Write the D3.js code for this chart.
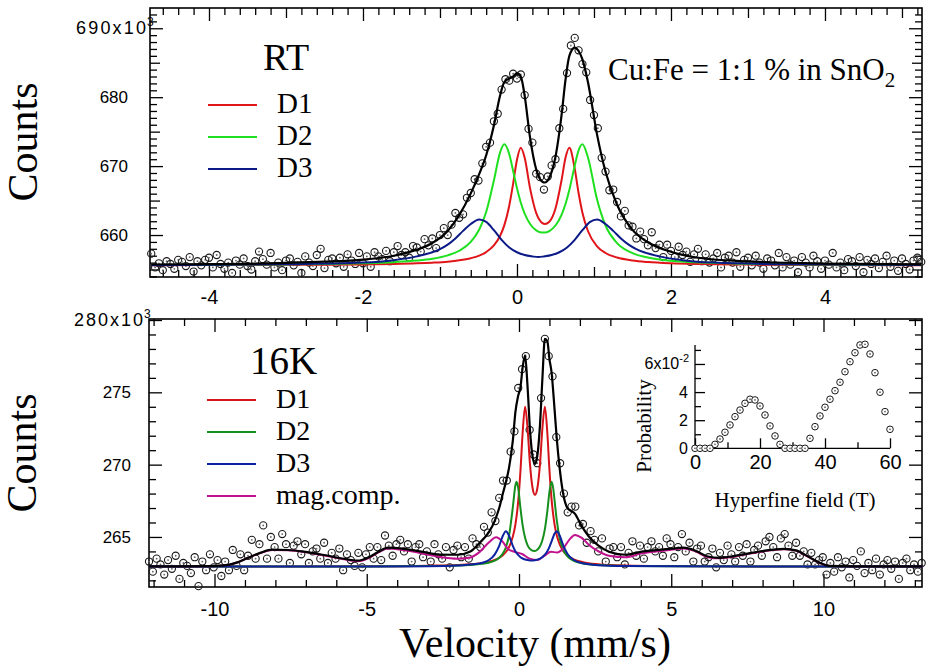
<!DOCTYPE html>
<html>
<head>
<meta charset="utf-8">
<script src="https://cdn.jsdelivr.net/npm/d3@7"></script>
<style>
body { margin: 0; background: #fff; }
</style>
</head>
<body>
<script>
var width = 929,
    height = 671;

var serif = "'Liberation Serif', 'Times New Roman', serif",
    sans = "'Liberation Sans', Arial, sans-serif";

// ---------- RT spectrum (counts in 10^3) ----------
// channel velocity calibration: first channel and step, mm/s
var rtVelStart = -4.75,
    rtVelStep = 0.05;

var rtCounts = [
    657.3,655.3,655.9,654.9,656.2,655.8,655.1,656.4,656.1,655.5,
    656.8,654.7,656.2,655.6,656.4,656.7,655.3,657.1,655.8,655.1,
    656.0,654.5,656.3,655.7,656.6,655.5,655.0,656.2,657.6,656.5,
    655.7,657.4,655.3,656.0,654.9,656.3,656.6,655.6,656.1,654.5,
    656.9,656.0,655.5,657.1,658.0,655.2,656.4,656.6,655.9,656.7,
    655.4,657.2,656.3,655.8,657.4,655.9,656.9,655.4,657.5,656.9,
    656.5,657.7,656.2,657.5,658.4,657.1,657.5,656.7,658.4,658.2,
    657.6,659.4,658.5,659.5,658.1,660.0,661.0,660.0,661.5,663.2,
    662.5,663.0,665.4,666.1,668.1,667.9,670.4,672.8,673.4,676.5,
    677.6,681.1,682.6,682.4,683.4,682.7,683.3,680.3,675.4,673.4,
    668.9,668.4,666.6,668.5,670.1,671.0,675.5,678.3,683.5,687.5,
    688.6,686.8,684.8,683.6,679.6,677.4,675.5,671.2,669.2,666.5,
    666.6,664.8,662.7,663.5,661.4,661.2,659.5,660.5,659.4,658.5,
    660.4,658.1,658.6,656.8,658.6,657.7,656.8,658.3,657.1,657.6,
    656.1,657.2,658.0,656.2,657.2,656.0,656.6,657.4,655.3,656.7,
    657.0,656.0,657.5,655.4,656.4,656.7,655.6,657.0,656.0,655.1,
    656.6,656.3,655.6,657.4,655.3,656.8,655.7,656.3,654.6,656.8,
    656.0,655.3,657.0,656.2,655.1,656.3,655.7,657.4,655.3,656.0,
    654.9,656.5,656.2,655.5,656.8,654.6,656.4,655.8,656.6,655.2,
    656.1,657.0,655.4,656.3,654.8,656.6,655.8,655.0,656.3,656.7,
    656.1
];

var rtVel = [-4.75,-4,-3,-2.5,-2,-1.6,-1.3,-1.1,-0.9,-0.75,-0.6,-0.49,-0.4,-0.3,-0.22,-0.165,
    -0.1,-0.05,0,0.05,0.1,0.17,0.25,0.3,0.36,0.42,0.5,0.58,0.63,0.68,0.75,0.8,0.85,0.92,
    1.04,1.15,1.3,1.5,1.7,2.0,2.4,3,4,5.25];
var rtFit = [655.72,655.77,655.95,656.13,656.44,657.0,657.88,658.84,660.59,662.89,666.04,668.87,
    671.58,675.9,680.22,682.2,682.7,683.0,683.5,683.0,680.2,674.13,669.51,668.12,667.62,668.32,
    671.35,677.49,682.5,686.0,687.2,686.7,685.5,682.28,674.57,669.17,664.4,660.75,658.95,
    657.57,656.63,656.18,655.86,655.73];
var rtD1 = [655.63,655.64,655.67,655.69,655.74,655.80,655.89,655.99,656.14,656.33,656.64,657.02,
    657.53,658.49,659.86,661.40,664.28,667.47,670.93,672.67,671.20,666.77,663.19,662.07,661.59,
    661.93,663.86,668.02,671.20,672.67,669.61,666.10,663.24,660.62,658.36,657.39,656.73,656.30,
    656.08,655.90,655.79,655.71,655.66,655.63];
var rtD2 = [655.66,655.68,655.74,655.79,655.90,656.06,656.29,656.56,657.05,657.72,659.00,660.80,
    663.35,667.91,671.96,673.16,671.71,669.29,666.79,664.69,663.10,661.61,660.68,660.41,660.35,
    660.58,661.38,662.97,664.51,666.55,670.06,672.28,673.16,671.32,665.17,661.38,658.83,657.38,
    656.73,656.27,656.00,655.82,655.71,655.66];
var rtD3Vel = [-4.75,-3,-2,-1.6,-1.3,-1.1,-1.0,-0.9,-0.8,-0.7,-0.6,-0.49,-0.4,-0.3,-0.2,-0.1,0,
    0.1,0.2,0.275,0.35,0.45,0.55,0.65,0.75,0.85,0.95,1.04,1.15,1.25,1.35,1.45,1.55,1.65,1.85,
    2.15,2.55,3.55,5.25];
var rtD3 = [655.62,655.75,656.0,656.35,656.9,657.5,657.95,658.6,659.5,660.6,661.6,662.25,661.9,
    660.7,659.3,658.2,657.5,657.1,656.9,656.8,656.9,657.1,657.5,658.2,659.3,660.7,661.9,662.25,
    661.6,660.6,659.5,658.6,657.95,657.5,656.9,656.35,656.0,655.75,655.65];

// ---------- 16K spectrum (counts in 10^3) ----------
var lowVelStart = -12.15,
    lowVelStep = 0.125;

var lowCounts = [
    263.3,262.6,263.5,263.1,262.4,263.4,262.8,263.7,262.1,263.2,
    263.0,262.5,263.6,261.6,263.3,262.7,263.8,262.9,263.4,262.3,
    263.3,262.7,264.1,263.0,263.8,262.7,263.7,264.8,263.5,264.5,
    265.8,263.5,265.0,264.3,263.5,265.2,264.5,263.2,264.4,264.7,
    263.8,264.5,263.2,264.0,264.2,263.5,264.6,263.2,263.9,263.5,
    264.2,262.7,263.8,263.4,263.0,263.9,262.9,263.8,264.3,263.5,
    264.3,263.4,265.1,264.4,263.7,264.5,264.8,264.0,264.5,263.3,
    264.3,264.5,263.6,264.0,263.3,264.5,263.8,263.5,264.3,262.9,
    264.1,264.4,263.6,264.3,263.5,264.9,264.5,264.3,265.7,265.3,
    266.7,266.1,267.7,268.9,268.9,270.9,272.3,275.3,276.6,277.5,
    272.4,270.7,270.1,274.6,278.7,277.5,276.1,271.9,270.1,268.0,
    266.7,267.1,267.1,265.8,265.9,264.6,265.4,264.8,264.0,264.9,
    263.3,264.2,264.3,263.6,264.3,263.1,263.9,264.7,263.7,264.4,
    263.5,264.3,264.7,264.0,264.3,263.7,264.9,264.5,263.6,264.3,
    265.2,264.0,264.6,263.3,264.2,264.4,263.3,263.6,264.2,262.9,
    263.9,263.4,264.4,263.8,263.3,264.3,263.7,264.5,263.3,264.1,
    264.4,263.7,264.7,265.0,264.3,263.6,264.9,265.2,264.4,263.7,
    264.6,263.7,264.0,263.1,263.9,263.1,263.4,263.6,262.4,263.2,
    262.6,263.6,262.9,263.3,262.2,263.4,263.0,264.0,262.5,263.2,
    262.7,263.5,262.4,263.1,263.4,262.8,263.3,262.1,263.2,263.5,
    262.7,263.1,262.6,263.2
];

var lowVel = [-12.15,-8,-5,-3,-2,-1.5,-1.2,-1.0,-0.8,-0.65,-0.53,-0.43,-0.33,-0.2,-0.12,-0.08,
    -0.03,0.05,0.12,0.2,0.28,0.36,0.45,0.525,0.6,0.69,0.77,0.85,0.93,1.0,1.07,1.12,1.17,1.24,
    1.34,1.45,1.6,1.8,2.1,2.6,3.5,5,8,13.25];
var lowD1 = [262.95,262.96,262.97,263.01,263.06,263.13,263.20,263.28,263.41,263.56,263.74,263.96,
    264.29,265.04,265.84,266.42,267.37,269.63,272.21,274.01,272.56,270.05,268.33,267.91,268.33,
    270.05,272.56,274.01,272.21,269.63,267.60,266.59,265.84,265.12,264.47,264.04,263.70,263.45,
    263.26,263.12,263.03,262.99,262.96,262.95];
var lowD2 = [262.95,262.96,262.96,262.99,263.02,263.08,263.14,263.22,263.36,263.56,263.85,264.29,
    265.07,267.10,268.55,268.81,268.44,266.96,265.80,264.94,264.44,264.17,264.04,264.03,264.11,
    264.36,264.79,265.54,266.77,268.12,268.81,268.41,267.50,266.16,264.87,264.13,263.64,263.35,
    263.17,263.06,263.00,262.97,262.96,262.95];
var lowD3 = [262.95,262.95,262.96,262.98,263.03,263.11,263.22,263.39,263.78,264.39,265.08,265.40,
    265.10,264.37,264.02,263.89,263.76,263.60,263.51,263.44,263.40,263.38,263.38,263.39,263.43,
    263.51,263.62,263.78,264.02,264.32,264.69,264.99,265.24,265.40,265.08,264.44,263.81,263.41,
    263.18,263.05,262.99,262.97,262.96,262.95];

var lowMagVel = [-12.15,-10.2,-9.7,-9.3,-8.9,-8.5,-8.1,-7.6,-7.0,-6.4,-5.8,-5.3,-4.9,-4.6,-4.3,
    -3.8,-3.2,-2.6,-2.0,-1.6,-1.3,-1.0,-0.75,-0.55,-0.35,-0.15,0.1,0.35,0.6,0.85,1.05,1.25,1.45,
    1.65,1.84,2.05,2.3,2.6,3.0,3.5,4.0,4.5,5.0,5.4,5.8,6.2,6.6,7.0,7.5,8.0,8.7,9.1,9.5,9.9,10.2,
    11,13.25];
var lowMag = [262.96,262.97,263.02,263.2,263.55,263.88,264.1,264.08,263.95,263.72,263.48,263.32,
    263.58,263.95,264.2,264.1,263.88,263.62,263.5,263.58,263.95,264.6,264.98,264.7,264.15,263.98,
    263.82,263.5,263.4,263.72,263.98,263.92,264.2,264.8,265.14,264.95,264.45,264.02,263.68,263.6,
    263.85,264.0,264.12,264.2,264.0,263.6,263.52,263.62,263.82,264.0,264.15,264.05,263.62,263.18,
    262.99,262.96,262.95];

var lowFitVel = [-12.15,-10.2,-9.7,-9.3,-8.9,-8.5,-8.1,-7.6,-7.0,-6.4,-5.8,-5.3,-4.9,-4.6,-4.3,
    -3.8,-3.2,-2.6,-2.0,-1.6,-1.3,-1.0,-0.8,-0.65,-0.53,-0.43,-0.33,-0.2,-0.12,-0.03,0.05,0.12,
    0.2,0.28,0.36,0.45,0.525,0.6,0.69,0.77,0.85,0.93,1.0,1.07,1.17,1.24,1.34,1.45,1.6,1.84,2.05,
    2.3,2.6,3.0,3.5,4.0,4.5,5.0,5.4,5.8,6.2,6.6,7.0,7.5,8.0,8.7,9.1,9.5,9.9,10.2,11,13.25];
var lowFit = [262.97,262.98,263.03,263.21,263.56,263.9,264.12,264.1,263.97,263.75,263.51,263.36,
    263.63,264.0,264.26,264.18,263.99,263.78,263.77,263.99,264.58,265.3,266.1,267.0,268.0,268.8,
    269.75,271.71,273.6,274.74,275.38,276.73,277.55,275.43,272.44,270.5,270.05,270.58,272.77,
    276.01,278.7,278.55,277.3,276.37,273.77,271.82,269.67,267.99,266.97,266.6,265.78,265.01,
    264.41,263.94,263.77,263.97,264.09,264.19,264.26,264.05,263.65,263.56,263.66,263.85,264.03,
    264.18,264.07,263.64,263.2,263.0,262.97,262.96];

// ---------- hyperfine field distribution (inset) ----------
var fieldT = [0,1.54,3.08,4.62,6.15,7.69,9.23,10.77,12.31,13.85,15.38,16.92,18.46,20,21.54,
    23.08,24.62,26.15,27.69,29.23,30.77,32.31,33.85,35.38,36.92,38.46,40,41.54,43.08,44.62,
    46.15,47.69,49.23,50.77,52.31,53.85,55.38,56.92,58.46,60];
var probability = [0,0,0,0,0.28,0.66,1.14,1.66,2.25,2.72,3.2,3.49,3.44,3.01,2.37,1.59,0.88,0.28,
    0,0,0,0,0,0.71,1.54,2.3,2.92,3.49,4.1,4.7,5.45,6.16,6.8,7.35,7.4,6.71,5.38,3.99,2.61,1.35];

var rtLegend = ["D1", "D2", "D3"],
    rtColors = ["#e0151a", "#1fe01f", "#0b1a86"];
var lowLegend = ["D1", "D2", "D3", "mag.comp."],
    lowColors = ["#d4141a", "#158f1d", "#0d22a0", "#c0128e"];

var svg = d3.select("body").append("svg")
    .attr("width", width)
    .attr("height", height);

var rt = {
    left: 150, right: 922, top: 8, bottom: 277,
    x: d3.scaleLinear().domain([-4.766, 5.26]).range([150, 922]),
    y: d3.scaleLinear().domain([653.91, 692.94]).range([277, 8])
};

var low = {
    left: 149, right: 922, top: 319, bottom: 587,
    x: d3.scaleLinear().domain([-12.151, 13.235]).range([149, 922]),
    y: d3.scaleLinear().domain([261.54, 280.07]).range([587, 319])
};

function noLabel() { return ""; }

function axisGroup(axis, transform) {
    var g = svg.append("g")
        .attr("transform", transform)
        .call(axis);
    g.select(".domain").remove();
    g.selectAll("line").attr("stroke", "#000").attr("stroke-width", 1.3);
    return g;
}

function notEvery(vals, n) {
    return vals.filter(function(v) { return Math.abs(Math.round(v / n) * n - v) > 1e-6; });
}

// ticks on all four sides, pointing inward
function frame(p, xt, yt, o) {
    [["major", 13], ["mid", 10], ["minor", 7]].forEach(function(s) {
        var xv = xt[s[0]] || [],
            yv = yt[s[0]] || [],
            len = s[1],
            lab = s[0] === "major";

        var xb = axisGroup(d3.axisBottom(p.x).tickValues(xv).tickSize(-len)
                .tickPadding(o.xPad).tickFormat(lab ? function(d) { return d; } : noLabel),
            "translate(0," + p.bottom + ")");
        axisGroup(d3.axisTop(p.x).tickValues(xv).tickSize(-len).tickFormat(noLabel),
            "translate(0," + p.top + ")");
        var yl = axisGroup(d3.axisLeft(p.y).tickValues(yv).tickSize(-len)
                .tickPadding(o.yPad).tickFormat(lab ? o.yFmt : noLabel),
            "translate(" + p.left + ",0)");
        axisGroup(d3.axisRight(p.y).tickValues(yv).tickSize(-len).tickFormat(noLabel),
            "translate(" + p.right + ",0)");

        xb.attr("font-family", sans).attr("font-size", o.xFont);
        yl.attr("font-family", sans).attr("font-size", o.yFont);
    });

    svg.append("rect")
        .attr("x", p.left)
        .attr("y", p.top)
        .attr("width", p.right - p.left)
        .attr("height", p.bottom - p.top)
        .attr("fill", "none")
        .attr("stroke", "#000")
        .attr("stroke-width", 1.6);
}

function dots(p, start, step, counts, r) {
    var pts = svg.append("g").selectAll("g")
        .data(counts)
      .enter().append("g")
        .attr("transform", function(d, i) {
            return "translate(" + p.x(start + i * step) + "," + p.y(d) + ")";
        });
    pts.append("circle")
        .attr("r", r)
        .attr("fill", "none")
        .attr("stroke", "#1a1a1a")
        .attr("stroke-width", 1.1);
    pts.append("circle")
        .attr("r", 0.9)
        .attr("fill", "#666");
}

function curve(p, vel, vals, color, w) {
    var line = d3.line()
        .x(function(d, i) { return p.x(vel[i]); })
        .y(function(d) { return p.y(d); })
        .curve(d3.curveMonotoneX);
    svg.append("path")
        .datum(vals)
        .attr("fill", "none")
        .attr("stroke", color)
        .attr("stroke-width", w)
        .attr("stroke-linejoin", "round")
        .attr("d", line);
}

function legend(names, colors, x0, y0, gap, size) {
    var row = svg.append("g").selectAll("g")
        .data(names)
      .enter().append("g")
        .attr("transform", function(d, i) { return "translate(" + x0 + "," + (y0 + i * gap) + ")"; });
    row.append("line")
        .attr("x1", 0).attr("x2", 49)
        .attr("y1", -8).attr("y2", -8)
        .attr("stroke", function(d, i) { return colors[i]; })
        .attr("stroke-width", 2);
    row.append("text")
        .attr("x", 69)
        .attr("font-family", serif)
        .attr("font-size", size)
        .text(function(d) { return d; });
}

// axis label carrying the exponent, e.g. 690x10^3
function expLabel(x0, x1, y, base, exp, size, expSize) {
    svg.append("text")
        .attr("x", x0)
        .attr("y", y)
        .attr("font-family", sans)
        .attr("font-size", size)
        .attr("textLength", x1 - x0)
        .attr("lengthAdjust", "spacing")
        .text(base);
    svg.append("text")
        .attr("x", x1 + 1)
        .attr("y", y - 8)
        .attr("font-family", sans)
        .attr("font-size", expSize)
        .text(exp);
}

// ---------- top panel: RT ----------
frame(rt,
    { major: [-4, -2, 0, 2, 4], mid: [-3, -1, 1, 3, 5],
      minor: notEvery(d3.range(-23, 27).map(function(k) { return k / 5; }), 1) },
    { major: [660, 670, 680, 690], mid: [655, 665, 675, 685],
      minor: notEvery(d3.range(654, 693), 5) },
    { xPad: 13, yPad: 22, xFont: 20, yFont: 17,
      yFmt: function(d) { return d === 690 ? "" : d; } });

dots(rt, rtVelStart, rtVelStep, rtCounts, 3.6);
curve(rt, rtVel, rtD1, rtColors[0], 2);
curve(rt, rtVel, rtD2, rtColors[1], 2);
curve(rt, rtD3Vel, rtD3, rtColors[2], 2);
curve(rt, rtVel, rtFit, "#000", 2.2);

expLabel(76, 146, rt.y(690) + 6, "690x10", "3", 18, 12);

svg.append("text")
    .attr("x", 263).attr("y", 70)
    .attr("font-family", serif).attr("font-size", 38)
    .text("RT");
legend(rtLegend, rtColors, 208, 113, 32, 29);

var cu = svg.append("text")
    .attr("x", 608).attr("y", 80)
    .attr("font-family", serif).attr("font-size", 31);
cu.append("tspan").text("Cu:Fe = 1:1 % in SnO");
cu.append("tspan").attr("font-size", 21).attr("dy", 7).text("2");

svg.append("text")
    .attr("transform", "translate(37,142)rotate(-90)")
    .attr("text-anchor", "middle")
    .attr("font-family", serif).attr("font-size", 42)
    .text("Counts");

// ---------- bottom panel: 16K ----------
frame(low,
    { major: [-10, -5, 0, 5, 10], minor: notEvery(d3.range(-12, 14), 5) },
    { major: [265, 270, 275, 280], minor: notEvery(d3.range(262, 281), 5) },
    { xPad: 15, yPad: 18, xFont: 20, yFont: 17,
      yFmt: function(d) { return d === 280 ? "" : d; } });

dots(low, lowVelStart, lowVelStep, lowCounts, 3.6);
curve(low, lowVel, lowD1, lowColors[0], 2);
curve(low, lowVel, lowD2, lowColors[1], 2);
curve(low, lowMagVel, lowMag, lowColors[3], 2);
curve(low, lowVel, lowD3, lowColors[2], 2);
curve(low, lowFitVel, lowFit, "#000", 2.2);

expLabel(74, 143, low.y(280) + 6, "280x10", "3", 18, 12);

svg.append("text")
    .attr("x", 250).attr("y", 374)
    .attr("font-family", serif).attr("font-size", 39)
    .text("16K");
legend(lowLegend, lowColors, 207, 408, 32, 28);

svg.append("text")
    .attr("transform", "translate(36,453)rotate(-90)")
    .attr("text-anchor", "middle")
    .attr("font-family", serif).attr("font-size", 42)
    .text("Counts");

svg.append("text")
    .attr("x", 535).attr("y", 657)
    .attr("text-anchor", "middle")
    .attr("font-family", serif).attr("font-size", 42)
    .text("Velocity (mm/s)");

// ---------- inset: hyperfine field distribution ----------
var ins = {
    x: d3.scaleLinear().domain([0, 60]).range([695, 890]),
    y: d3.scaleLinear().domain([0, 7.35]).range([448.3, 345])
};

function insetAxis(axis, transform, font) {
    var g = axisGroup(axis, transform);
    g.attr("font-family", sans).attr("font-size", font);
    return g;
}

insetAxis(d3.axisBottom(ins.x).tickValues([0, 20, 40, 60]).tickSize(-10).tickPadding(7),
    "translate(0," + ins.y(0) + ")", 20);
insetAxis(d3.axisBottom(ins.x).tickValues([10, 30, 50]).tickSize(-6).tickFormat(noLabel),
    "translate(0," + ins.y(0) + ")", 20);
insetAxis(d3.axisLeft(ins.y).tickValues([0, 2, 4, 6]).tickSize(-10).tickPadding(7)
    .tickFormat(function(d) { return d === 6 ? "" : d; }),
    "translate(" + ins.x(0) + ",0)", 16);
insetAxis(d3.axisLeft(ins.y).tickValues([1, 3, 5, 7]).tickSize(-6).tickFormat(noLabel),
    "translate(" + ins.x(0) + ",0)", 16);

svg.append("line")
    .attr("x1", ins.x(0)).attr("x2", ins.x(60))
    .attr("y1", ins.y(0)).attr("y2", ins.y(0))
    .attr("stroke", "#000").attr("stroke-width", 1.3);
svg.append("line")
    .attr("x1", ins.x(0)).attr("x2", ins.x(0))
    .attr("y1", ins.y(0)).attr("y2", ins.y(7.35))
    .attr("stroke", "#000").attr("stroke-width", 1.3);

var six = svg.append("text")
    .attr("x", 689)
    .attr("y", ins.y(6) + 5.5)
    .attr("font-family", sans)
    .attr("font-size", 16)
    .attr("text-anchor", "end");
six.append("tspan").text("6x10");
six.append("tspan").attr("font-size", 11).attr("dy", -7).text("-2");

var ip = svg.append("g").selectAll("g")
    .data(probability)
  .enter().append("g")
    .attr("transform", function(d, i) {
        return "translate(" + ins.x(fieldT[i]) + "," + ins.y(d) + ")";
    });
ip.append("circle")
    .attr("r", 3.3)
    .attr("fill", "#fff")
    .attr("stroke", "#1a1a1a")
    .attr("stroke-width", 1);
ip.append("circle")
    .attr("r", 0.9)
    .attr("fill", "#666");

svg.append("text")
    .attr("transform", "translate(651,426)rotate(-90)")
    .attr("text-anchor", "middle")
    .attr("font-family", serif).attr("font-size", 21)
    .text("Probability");

svg.append("text")
    .attr("x", 795).attr("y", 507)
    .attr("text-anchor", "middle")
    .attr("font-family", serif).attr("font-size", 21)
    .text("Hyperfine field (T)");
</script>
</body>
</html>
